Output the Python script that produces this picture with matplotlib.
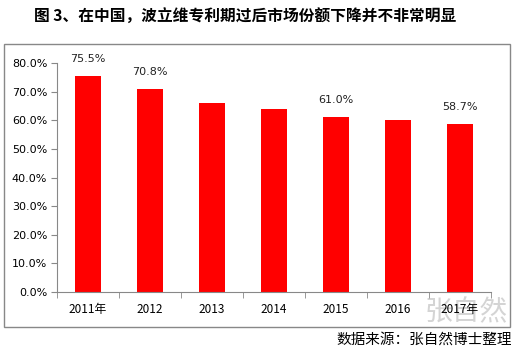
import matplotlib.pyplot as plt
from matplotlib.patches import Rectangle
from matplotlib.ticker import FuncFormatter

plt.rcParams['font.family'] = ['Noto Sans CJK SC', 'DejaVu Sans']

years = ["2011年", "2012", "2013", "2014", "2015", "2016", "2017年"]
share = [75.5, 70.8, 66.0, 64.0, 61.0, 60.2, 58.7]
labeled = {0: "75.5%", 1: "70.8%", 4: "61.0%", 6: "58.7%"}

fig = plt.figure(figsize=(5.15, 3.51), dpi=100)
ax = fig.add_axes([57 / 515, 1 - 292 / 351, 434 / 515, 229 / 351])
ax.patch.set_alpha(0)

x = range(len(years))
ax.bar(x, share, width=0.42, color="#ff0000")
for i, txt in labeled.items():
    ax.text(i, share[i] + 4.3, txt, ha="center", va="bottom", fontsize=8,
            family=["DejaVu Sans"], color="#222222")

ax.set_xlim(-0.5, len(years) - 0.5)
ax.set_ylim(0, 80)
ax.set_yticks(range(0, 81, 10))
ax.yaxis.set_major_formatter(FuncFormatter(lambda v, p: f"{v:.1f}%"))
ax.set_xticks(x)
ax.set_xticklabels(years, fontsize=8.5)
ax.set_xticks([i - 0.5 for i in range(len(years) + 1)], minor=True)
ax.tick_params(axis="x", which="major", length=0, pad=8)
ax.tick_params(axis="x", which="minor", length=4, color="#888888")
ax.tick_params(axis="y", length=4, color="#888888", labelsize=8, pad=3)
for lbl in ax.get_yticklabels():
    lbl.set_family(["DejaVu Sans"])
for s in ["top", "right"]:
    ax.spines[s].set_visible(False)
for s in ["left", "bottom"]:
    ax.spines[s].set_color("#888888")

# outer chart frame
fig.patches.append(Rectangle((4 / 515, 1 - 327 / 351), 506 / 515, 283 / 351,
                             transform=fig.transFigure, fill=False,
                             edgecolor="#888888", linewidth=1))

fig.text(245 / 515, 1 - 17 / 351, "图 3、在中国，波立维专利期过后市场份额下降并不非常明显",
         ha="center", va="center", fontsize=11.3, fontweight="bold")
# watermark sits behind the axis labels
fig.text(466 / 515, 1 - 312 / 351, "张自然", ha="center", va="center",
         fontsize=20, color="#d4d4d4", zorder=-1)
fig.text(512 / 515, 1 - 340 / 351, "数据来源：张自然博士整理", ha="right",
         va="center", fontsize=10.5)

fig.savefig("out.png", dpi=100)
